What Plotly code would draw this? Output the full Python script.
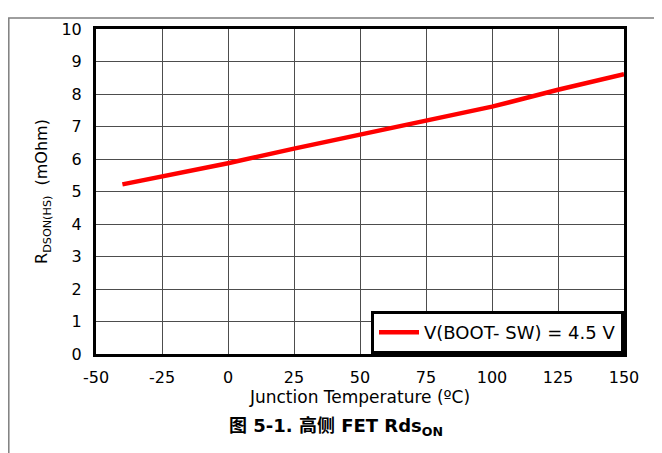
import plotly.graph_objects as go

# Junction temperature (C) and high-side FET on-resistance (mOhm)
temperature = [-40, -25, 0, 25, 50, 75, 100, 125, 150]
rdson = [5.22, 5.46, 5.87, 6.32, 6.75, 7.2, 7.61, 8.13, 8.61]

x_ticks = [-50, -25, 0, 25, 50, 75, 100, 125, 150]
x_tick_labels = ["-50", "-25", "0", "25", "50", "75", "100", "125", "150"]
y_ticks = [0, 1, 2, 3, 4, 5, 6, 7, 8, 9, 10]

series_name = "V(BOOT- SW) = 4.5 V"
caption = "<b>图 5-1. 高侧 FET Rds<sub>ON</sub></b>"

# page has an 8px body margin, so the figure is a bit smaller than the window
W, H = 654, 445
L, R, T, B = 88, 38, 12, 99
FONT = "DejaVu Sans, Noto Sans CJK SC, sans-serif"


def px_to_paper(px, py):
    """Convert figure pixel position to paper coords."""
    pw = W - L - R
    ph = H - T - B
    return (px - L) / pw, (H - B - py) / ph


fig = go.Figure()

fig.add_trace(go.Scatter(
    x=temperature,
    y=rdson,
    mode='lines',
    name=series_name,
    line=dict(color='#ff0000', width=4.5),
))

# outer gray frame (only left/top visible in the original)
fx0, fy0 = px_to_paper(0.8, 0.8)
fx1, fy1 = px_to_paper(W + 20, H + 20)
fig.add_shape(
    type='rect', xref='paper', yref='paper',
    x0=fx0, y0=fy1, x1=fx1, y1=fy0,
    line=dict(color='#7f7f7f', width=1.5),
    layer='below',
)

cx, cy = px_to_paper(328, 421)
fig.add_annotation(
    text=caption, xref='paper', yref='paper',
    x=cx, y=cy, showarrow=False,
    font=dict(size=18, color='black', family=FONT),
    xanchor='center', yanchor='middle',
)

fig.update_xaxes(
    range=[-50, 150],
    tickvals=x_ticks, ticktext=x_tick_labels,
    ticks='', ticklabelstandoff=7,
    showgrid=True, gridcolor='#4d4d4d', gridwidth=1,
    showline=True, linecolor='black', linewidth=3, mirror=True,
    zeroline=False,
    tickfont=dict(size=16, color='black'),
    title=dict(text='Junction Temperature (ºC)', standoff=3,
               font=dict(size=17, color='black')),
)

fig.update_yaxes(
    range=[0, 10],
    tickvals=y_ticks,
    ticks='', ticklabelstandoff=8,
    showgrid=True, gridcolor='#4d4d4d', gridwidth=1,
    showline=True, linecolor='black', linewidth=3, mirror=True,
    zeroline=False,
    tickfont=dict(size=16, color='black'),
    title=dict(text='R<sub>DSON(HS)</sub>  (mOhm)', standoff=10,
               font=dict(size=16, color='black')),
)

fig.update_layout(
    width=W, height=H,
    margin=dict(l=L, r=R, t=T, b=B),
    paper_bgcolor='white',
    plot_bgcolor='white',
    font=dict(family=FONT, size=16, color='black'),
    showlegend=True,
    legend=dict(
        x=1, y=0, xanchor='right', yanchor='bottom',
        bgcolor='white', bordercolor='black', borderwidth=3,
        font=dict(size=18, color='black'),
        itemwidth=40,
    ),
)

fig.write_html("out.html")
